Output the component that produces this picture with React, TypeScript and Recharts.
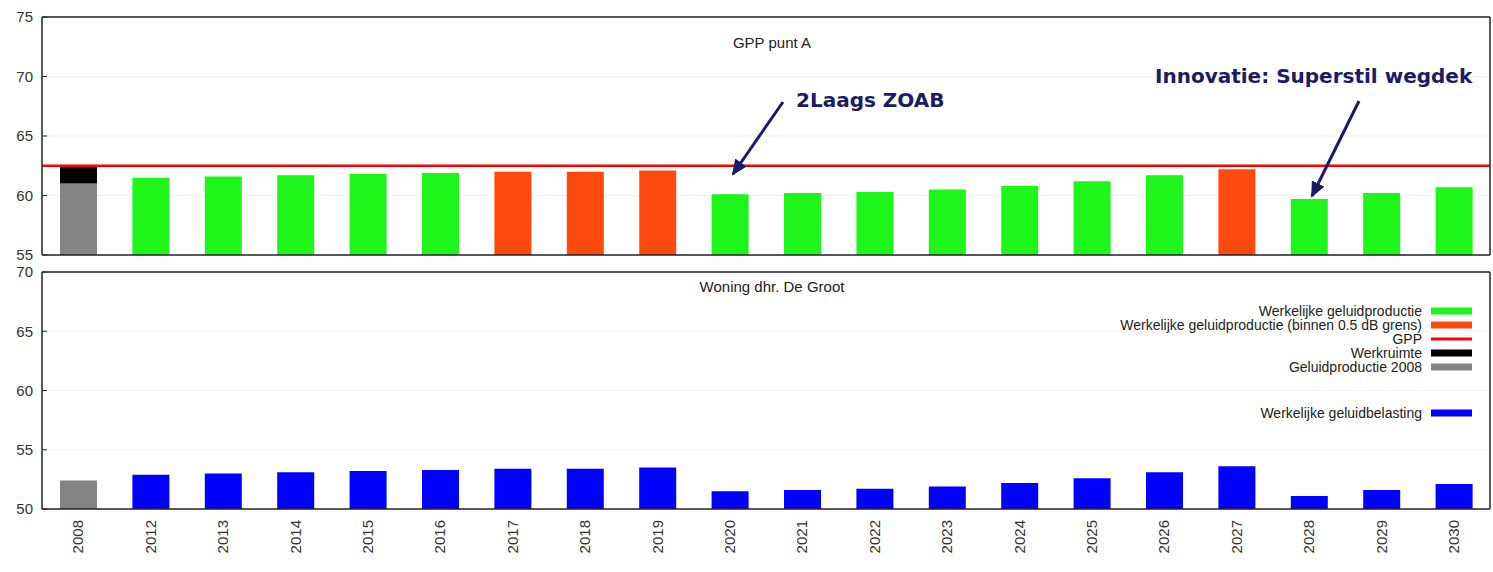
import { BarChart, Bar, Cell, XAxis, YAxis, CartesianGrid, ReferenceLine } from 'recharts'

const years = ['2008', '2012', '2013', '2014', '2015', '2016', '2017', '2018', '2019', '2020', '2021', '2022', '2023', '2024', '2025', '2026', '2027', '2028', '2029', '2030']
// werkelijke geluidproductie, GPP punt A (dB)
const productie = [61.0, 61.5, 61.6, 61.7, 61.8, 61.9, 62.0, 62.0, 62.1, 60.1, 60.2, 60.3, 60.5, 60.8, 61.2, 61.7, 62.2, 59.7, 60.2, 60.7]
// werkruimte boven de productie van 2008
const werkruimte = [1.5, 0, 0, 0, 0, 0, 0, 0, 0, 0, 0, 0, 0, 0, 0, 0, 0, 0, 0, 0]
// ref = 2008, ok = onder grens, grens = binnen 0.5 dB
const status = ['ref', 'ok', 'ok', 'ok', 'ok', 'ok', 'grens', 'grens', 'grens', 'ok', 'ok', 'ok', 'ok', 'ok', 'ok', 'ok', 'grens', 'ok', 'ok', 'ok']
// werkelijke geluidbelasting, woning dhr. De Groot (dB)
const belasting = [52.4, 52.9, 53.0, 53.1, 53.2, 53.3, 53.4, 53.4, 53.5, 51.5, 51.6, 51.7, 51.9, 52.2, 52.6, 53.1, 53.6, 51.1, 51.6, 52.1]
const gpp = 62.5

const topTicks = [55, 60, 65, 70, 75]
const bottomTicks = [50, 55, 60, 65, 70]

const legendItems = [
  { label: 'Werkelijke geluidproductie', color: '#1ef51a', y: 311, h: 7 },
  { label: 'Werkelijke geluidproductie (binnen 0.5 dB grens)', color: '#ff4a0f', y: 325, h: 7 },
  { label: 'GPP', color: '#ff0000', y: 339, h: 3 },
  { label: 'Werkruimte', color: '#000000', y: 353, h: 7 },
  { label: 'Geluidproductie 2008', color: '#848484', y: 367, h: 7 },
  { label: 'Werkelijke geluidbelasting', color: '#0000ff', y: 413, h: 7 },
]

const COLORS: Record<string, string> = {
  ref: '#848484',
  ok: '#1ef51a',
  grens: '#ff4a0f',
}

const topData = years.map((year, i) => ({
  year,
  productie: productie[i],
  werkruimte: werkruimte[i],
}))

const bottomData = years.map((year, i) => ({
  year,
  belasting: belasting[i],
}))

const FONT = '"Liberation Sans", Arial, sans-serif'
const tickStyle = { fontSize: 15, fill: '#333', fontFamily: FONT }
const NAVY = '#1b1b66'

function YearTick({ x, y, payload }: any) {
  return (
    <text
      transform={`translate(${x},${y + 11}) rotate(-90)`}
      textAnchor="end"
      dy="0.35em"
      fontSize={15}
      fill="#333"
      fontFamily={FONT}
    >
      {payload.value}
    </text>
  )
}

function Overlay() {
  return (
    <svg
      width={1493}
      height={572}
      style={{ position: 'absolute', left: 0, top: 0, pointerEvents: 'none' }}
    >
      <defs>
        <marker
          id="arrow"
          markerUnits="userSpaceOnUse"
          markerWidth={16}
          markerHeight={14}
          refX={14}
          refY={7}
          orient="auto"
        >
          <path d="M0,0 L16,7 L0,14 z" fill={NAVY} />
        </marker>
      </defs>
      <text x={772} y={48} textAnchor="middle" fontSize={15} fill="#222" fontFamily={FONT}>
        GPP punt A
      </text>
      <text x={772} y={292} textAnchor="middle" fontSize={15} fill="#222" fontFamily={FONT}>
        Woning dhr. De Groot
      </text>

      <text x={796} y={107} fontSize={20} fontWeight="bold" fill={NAVY} fontFamily="DejaVu Sans">
        2Laags ZOAB
      </text>
      <line x1={783} y1={102} x2={733} y2={174} stroke={NAVY} strokeWidth={3} markerEnd="url(#arrow)" />

      <text x={1155} y={83} fontSize={20} fontWeight="bold" fill={NAVY} fontFamily="DejaVu Sans">
        Innovatie: Superstil wegdek
      </text>
      <line x1={1359} y1={101} x2={1312} y2={196} stroke={NAVY} strokeWidth={3} markerEnd="url(#arrow)" />

      {legendItems.map((item) => (
        <g key={item.label}>
          <text
            x={1422}
            y={item.y}
            dy="0.35em"
            textAnchor="end"
            fontSize={14}
            fill="#222"
            fontFamily={FONT}
          >
            {item.label}
          </text>
          <rect x={1431} y={item.y - item.h / 2} width={41} height={item.h} fill={item.color} />
        </g>
      ))}
    </svg>
  )
}

export default function App() {
  return (
    <div style={{ position: 'absolute', left: 0, top: 0, width: 1493, height: 572, background: '#fff' }}>
      <div style={{ position: 'absolute', left: 0, top: 0 }}>
        <BarChart
          width={1493}
          height={264}
          data={topData}
          margin={{ top: 17, right: 0, bottom: 9, left: 0 }}
          barSize={37}
        >
          <CartesianGrid vertical={false} stroke="#f3f3f3" />
          <XAxis dataKey="year" hide />
          <YAxis
            domain={[55, 75]}
            ticks={topTicks}
            interval={0}
            allowDataOverflow
            width={42}
            tickSize={-5}
            tickMargin={14}
            tick={tickStyle}
            axisLine={{ stroke: '#222', strokeWidth: 1.5 }}
            tickLine={{ stroke: '#222' }}
          />
          <YAxis
            yAxisId="r"
            orientation="right"
            domain={[55, 75]}
            ticks={topTicks}
            interval={0}
            allowDataOverflow
            width={3}
            tickSize={-5}
            tick={false}
            axisLine={{ stroke: '#222', strokeWidth: 1.5 }}
            tickLine={{ stroke: '#222' }}
          />
          <ReferenceLine y={gpp} stroke="#ff0000" strokeWidth={2.5} />
          <Bar dataKey="productie" stackId="a" isAnimationActive={false}>
            {topData.map((d, i) => (
              <Cell key={d.year} fill={COLORS[status[i]]} />
            ))}
          </Bar>
          <Bar dataKey="werkruimte" stackId="a" fill="#000000" isAnimationActive={false} />
          <ReferenceLine y={75} stroke="#222" strokeWidth={1.5} />
          <ReferenceLine y={55} stroke="#222" strokeWidth={1.5} />
        </BarChart>
      </div>
      <div style={{ position: 'absolute', left: 0, top: 258 }}>
        <BarChart width={1493} height={314} data={bottomData} margin={{ top: 14, right: 0, bottom: 0, left: 0 }} barSize={37}>
          <CartesianGrid vertical={false} stroke="#f3f3f3" />
          <XAxis
            dataKey="year"
            height={63}
            tickSize={0}
            tickMargin={0}
            tick={<YearTick />}
            axisLine={{ stroke: '#222', strokeWidth: 1.5 }}
            interval={0}
          />
          <YAxis
            domain={[50, 70]}
            ticks={bottomTicks}
            interval={0}
            allowDataOverflow
            width={42}
            tickSize={-5}
            tickMargin={14}
            tick={tickStyle}
            axisLine={{ stroke: '#222', strokeWidth: 1.5 }}
            tickLine={{ stroke: '#222' }}
          />
          <YAxis
            yAxisId="r"
            orientation="right"
            domain={[50, 70]}
            ticks={bottomTicks}
            interval={0}
            allowDataOverflow
            width={3}
            tickSize={-5}
            tick={false}
            axisLine={{ stroke: '#222', strokeWidth: 1.5 }}
            tickLine={{ stroke: '#222' }}
          />
          <Bar dataKey="belasting" isAnimationActive={false}>
            {bottomData.map((d, i) => (
              <Cell key={d.year} fill={status[i] === 'ref' ? COLORS.ref : '#0000ff'} />
            ))}
          </Bar>
          <ReferenceLine y={70} stroke="#222" strokeWidth={1.5} />
        </BarChart>
      </div>
      <Overlay />
    </div>
  )
}
